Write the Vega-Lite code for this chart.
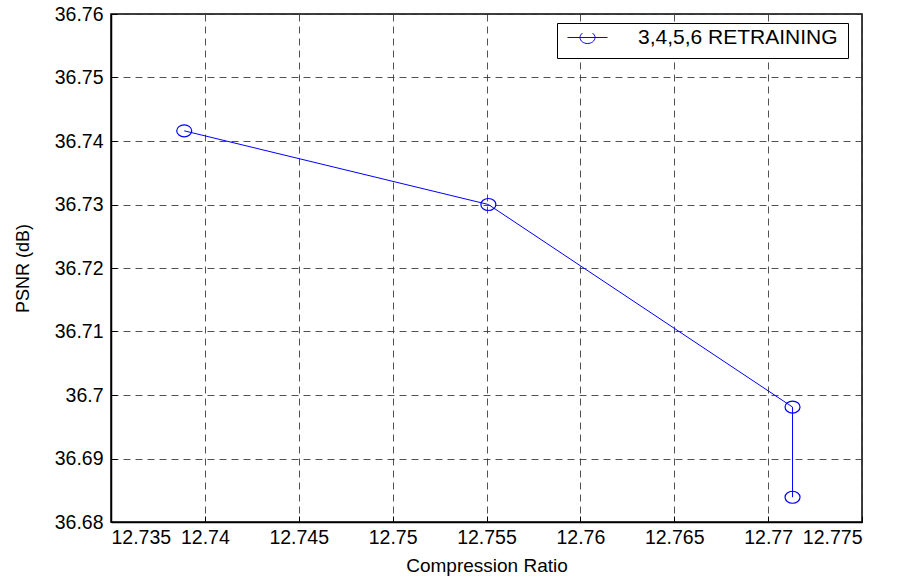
{
  "$schema": "https://vega.github.io/schema/vega-lite/v6.json",
  "width": 751,
  "height": 508,
  "autosize": {"type": "none"},
  "padding": {"left": 111, "top": 14, "right": 39, "bottom": 58},
  "background": "white",
  "config": {
    "font": "Liberation Sans",
    "view": {"stroke": "black", "strokeWidth": 1.5},
    "axis": {
      "labelFont": "Liberation Sans",
      "titleFont": "Liberation Sans",
      "labelFontSize": 19.5,
      "titleFontSize": 18,
      "labelColor": "black",
      "titleColor": "black",
      "titleFontWeight": "normal",
      "domainColor": "black",
      "tickColor": "black",
      "gridColor": "#333333",
      "gridDash": [7, 5],
      "gridOpacity": 0.85,
      "gridWidth": 1
    }
  },
  "data": {
    "values": [
      {"cr": 12.7389, "psnr": 36.7416, "series": "3,4,5,6 RETRAINING"},
      {"cr": 12.7551, "psnr": 36.7300, "series": "3,4,5,6 RETRAINING"},
      {"cr": 12.7713, "psnr": 36.6981, "series": "3,4,5,6 RETRAINING"},
      {"cr": 12.7713, "psnr": 36.6839, "series": "3,4,5,6 RETRAINING"}
    ]
  },
  "mark": {
    "type": "line",
    "strokeWidth": 1,
    "point": {"filled": false, "size": 225, "strokeWidth": 1.2, "shape": "M 1 0 A 1 0.8 0 1 1 -1 0 A 1 0.8 0 1 1 1 0 Z"}
  },
  "encoding": {
    "x": {
      "field": "cr",
      "type": "quantitative",
      "sort": null,
      "scale": {"domain": [12.735, 12.775], "nice": false, "zero": false},
      "axis": {
        "title": "Compression Ratio",
        "titleFontSize": 19,
        "values": [12.735, 12.74, 12.745, 12.75, 12.755, 12.76, 12.765, 12.77, 12.775],
        "format": ".3~f",
        "tickSize": -6,
        "labelPadding": 12,
        "titlePadding": 10,
        "domainWidth": 1.5
      }
    },
    "y": {
      "field": "psnr",
      "type": "quantitative",
      "scale": {"domain": [36.68, 36.76], "nice": false, "zero": false},
      "axis": {
        "title": "PSNR (dB)",
        "values": [36.68, 36.69, 36.7, 36.71, 36.72, 36.73, 36.74, 36.75, 36.76],
        "format": ".2~f",
        "tickSize": -6,
        "labelPadding": 14,
        "titlePadding": 22,
        "domainWidth": 1.5
      }
    },
    "order": {"field": "cr", "type": "quantitative"},
    "color": {
      "field": "series",
      "type": "nominal",
      "scale": {"domain": ["3,4,5,6 RETRAINING"], "range": ["#0000ff"]},
      "legend": {
        "title": null,
        "orient": "none",
        "legendX": 446,
        "legendY": 9,
        "strokeColor": "black",
        "fillColor": "white",
        "padding": 10,
        "clipHeight": 9,
        "labelFontSize": 21,
        "labelFont": "Liberation Sans",
        "labelColor": "black",
        "labelLimit": 400,
        "symbolType": "M -1 0 H 1 M 0.375 0 A 0.375 0.3 0 1 1 -0.375 0 A 0.375 0.3 0 1 1 0.375 0",
        "symbolSize": 1600,
        "symbolStrokeWidth": 1,
        "symbolFillColor": "transparent",
        "labelOffset": 30
      }
    }
  }
}
